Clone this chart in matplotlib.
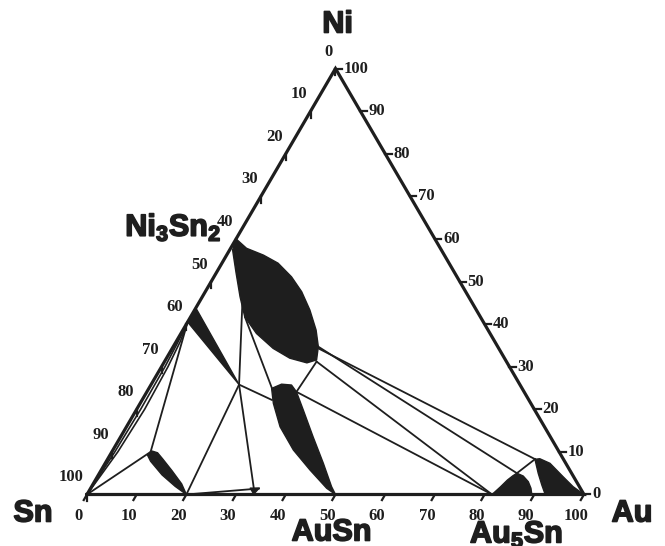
import numpy as np
import matplotlib.pyplot as plt
import matplotlib.patheffects as pe

plt.rcParams['mathtext.fontset'] = 'custom'
plt.rcParams['mathtext.rm'] = 'Liberation Sans:bold'
plt.rcParams['mathtext.bf'] = 'Liberation Sans:bold'

INK = '#1e1e1e'

# axis graduations (at.%)
tick_values = [0, 10, 20, 30, 40, 50, 60, 70, 80, 90, 100]
tick_labels = [str(v) for v in tick_values]

# phase fields, compositions given as (at.% Au, at.% Ni)
ni3sn2_au = [0, 3.2, 7.4, 11.3, 15.6, 19.4, 23.2, 26.8, 29.2, 30.4,
             28.8, 24.8, 20.3, 15.2, 10.9, 7.6, 4.0, 0.6]
ni3sn2_ni = [60, 57.8, 56.2, 54.3, 51.1, 47.6, 43.3, 38.6, 34.7, 31.6,
             30.9, 32.0, 34.3, 37.8, 41.7, 46.4, 52.0, 57.4]

ni3sn4_au = [0, 17.7, 0]
ni3sn4_ni = [43.8, 25.8, 40.5]

auni_au = [8.0, 9.3, 11.0, 14.3, 17.8, 20, 16.8, 12.8, 8.9, 7.5]
auni_ni = [10.2, 9.8, 8.4, 5.6, 2.5, 0, 1.9, 4.6, 7.8, 9.3]

ausn_au = [26.2, 28.3, 30.1, 33.6, 38.7, 43.9, 48.3, 50,
           47.5, 42.0, 36.3, 30.9, 26.8, 24.7]
ausn_ni = [25.9, 25.7, 24.1, 19.84, 13.57, 7.32, 1.83, 0,
           1.46, 5.75, 10.45, 15.9, 21.4, 24.9]

au5sn_au = [81.5, 82.3, 82.9, 83.5, 84.0, 85.6, 87.3, 88.6, 89.5]
au5sn_ni = [0, 1.8, 3.4, 4.4, 5.0, 4.34, 3.0, 1.46, 0]

aurich_au = [86.0, 86.9, 89.5, 93.7, 96.9, 100, 92.2, 90.4, 88.3]
aurich_ni = [8.26, 8.4, 7.32, 4.18, 1.83, 0, 0, 2.23, 4.98]

arrow_au = [32.1, 33.9, 33.5]
arrow_ni = [1.5, 1.5, 0.1]

# liquid boundaries hugging the Sn-Ni side
liq_a_au = [0, 0.6, 0.8, 0.7, 0.4, 0]
liq_a_ni = [0, 10, 20, 30, 36, 40.5]
liq_b_au = [0, 1.2, 1.6, 1.3, 0.8, 0]
liq_b_ni = [0, 10, 20, 30, 36, 40.5]

# tie lines: ((Au, Ni), (Au, Ni))
tie_lines = [
    ((7.8, 10.0), (0, 0)),
    ((0, 40.5), (7.8, 10.0)),
    ((17.7, 25.8), (20, 0)),
    ((17.7, 25.8), (26.1, 22.2)),
    ((17.7, 25.8), (9.0, 44.5)),
    ((17.7, 25.8), (33.0, 1.2)),
    ((20, 0), (33.9, 1.4)),
    ((11.0, 41.6), (24.7, 25.0)),
    ((30.6, 31.2), (30.1, 24.1)),
    ((30.6, 31.2), (81.5, 0)),
    ((30.1, 24.1), (81.5, 0)),
    ((29.2, 34.7), (84.0, 5.0)),
    ((29.4, 34.3), (86.0, 8.3)),
    ((84.0, 5.0), (86.0, 8.3)),
]


def tern(au, ni):
    au = np.asarray(au, dtype=float)
    ni = np.asarray(ni, dtype=float)
    return au + ni / 2, ni * np.sqrt(3) / 2


fig = plt.figure(figsize=(6.65, 5.46), dpi=100)
ax = fig.add_axes([0, 0, 1, 1])
ax.set_xlim(-17.5, 116.3)
ax.set_ylim(-10.47, 100.53)
ax.axis('off')

# triangle frame
fx, fy = tern([0, 100, 0, 0], [0, 0, 100, 0])
ax.plot(fx, fy, color=INK, lw=2.3, solid_joinstyle='miter', zorder=3)

num = dict(fontfamily='Liberation Serif', fontweight='bold', fontsize=12,
           color=INK, textcoords='offset pixels')
for v, lab in zip(tick_values, tick_labels):
    # bottom side: Au
    bx, by = tern(v, 0)
    ax.plot([bx, bx - 0.65], [by, by - 1.13], color=INK, lw=1.6)
    ax.annotate(lab, (bx, by), xytext=(-8, -22), ha='center', va='center', **num)
    # left side: Sn
    lx, ly = tern(0, 100 - v)
    ax.plot([lx, lx], [ly, ly - 1.3], color=INK, lw=1.6)
    ax.annotate(lab, (lx, ly), xytext=(-3, 17), ha='right', va='center', **num)
    # right side: Ni
    rx, ry = tern(100 - v, v)
    ax.plot([rx, rx + 1.3], [ry, ry], color=INK, lw=1.6)
    ax.annotate(lab, (rx, ry), xytext=(8, 0), ha='left', va='center', **num)

# tie lines and liquid boundaries
for (a1, n1), (a2, n2) in tie_lines:
    x, y = tern([a1, a2], [n1, n2])
    ax.plot(x, y, color=INK, lw=1.3, zorder=2)
for au, ni in [(liq_a_au, liq_a_ni), (liq_b_au, liq_b_ni)]:
    x, y = tern(au, ni)
    ax.plot(x, y, color=INK, lw=1.2, zorder=2)

# single-phase regions
for au, ni in [(ni3sn2_au, ni3sn2_ni), (ni3sn4_au, ni3sn4_ni),
               (auni_au, auni_ni), (ausn_au, ausn_ni),
               (au5sn_au, au5sn_ni), (aurich_au, aurich_ni),
               (arrow_au, arrow_ni)]:
    x, y = tern(au, ni)
    ax.fill(x, y, facecolor=INK, edgecolor=INK, lw=1.0, joinstyle='round',
            zorder=4)

heavy = [pe.withStroke(linewidth=1.2, foreground=INK)]
big = dict(fontfamily='Liberation Sans', fontweight='bold', fontsize=22,
           color=INK, textcoords='offset pixels', va='baseline', ha='center',
           path_effects=heavy)
ax.annotate('Ni', tern(0, 100), xytext=(2, 36), **big)
ax.annotate('Sn', tern(0, 0), xytext=(-54, -27), **big)
ax.annotate('Au', tern(100, 0), xytext=(48, -27), **big)
ax.annotate('AuSn', tern(50, 0), xytext=(-4, -46), **big)
ax.annotate(r'Au$_5$Sn', tern(86, 0), xytext=(2, -48), **big)
big['ha'] = 'right'
ax.annotate(r'Ni$_3$Sn$_2$', tern(0, 60), xytext=(-15, 3), **big)

fig.savefig('out.png', dpi=100, facecolor='white')
